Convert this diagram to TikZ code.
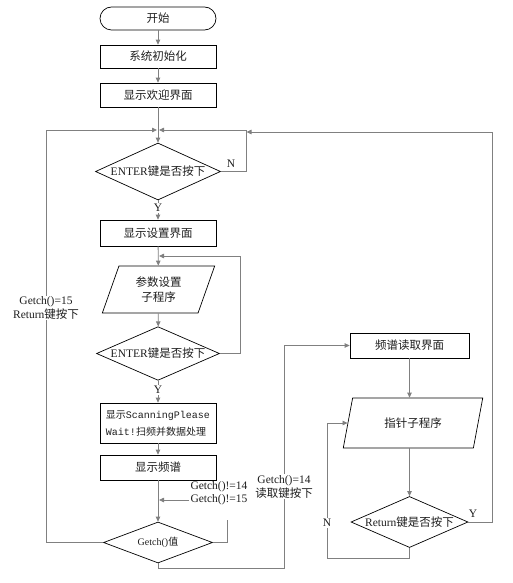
\documentclass[tikz,border=0pt]{standalone}
\usepackage{fontspec}
\setmainfont{Liberation Serif}
\newfontfamily\cjk{Noto Sans CJK SC}
\newfontfamily\monofnt{Liberation Mono}
\newcommand\zh[1]{{\cjk #1}}
\newcommand\fsz{\fontsize{11.5}{14}\selectfont}
\newcommand\fszs{\fontsize{10}{17}\selectfont}
\usetikzlibrary{shapes.geometric,arrows.meta}
\definecolor{lc}{HTML}{808080}
\definecolor{tc}{HTML}{1E1E1E}
\begin{document}
\begin{tikzpicture}[x=1pt,y=-1pt,
  box/.style={draw=black, line width=0.7pt, minimum width=116pt, minimum height=24pt, inner sep=1pt, font=\fsz, text=tc},
  term/.style={box, rounded corners=11.5pt},
  dia/.style={diamond, draw=black, line width=0.7pt, inner sep=0pt, aspect=2.2, font=\fsz, text=tc},
  io/.style={trapezium, trapezium left angle=70, trapezium right angle=110, trapezium stretches=true, draw=black, line width=0.7pt, inner sep=1pt, font=\fsz, text=tc},
  ln/.style={draw=lc, line width=0.8pt},
  arr/.style={ln, -{Triangle[length=5pt,width=4.5pt]}},
  lab/.style={font=\fsz, text=tc, inner sep=1pt, fill=white}]
\useasboundingbox (0,0) rectangle (512,583);

% main column
\node[term, minimum height=23pt] (start) at (158,18.5) {\zh{开始}};
\node[box, minimum height=23pt] (init) at (158,56.5) {\zh{系统初始化}};
\node[box] (welcome) at (158,95) {\zh{显示欢迎界面}};
\node[dia, minimum width=125pt, minimum height=57pt] (enter1) at (158,171.5) {ENTER\zh{键是否按下}};
\node[box, minimum height=26pt] (setting) at (158,233) {\zh{显示设置界面}};
\node[io, minimum width=113pt, minimum height=47pt, align=center, font=\fontsize{11.5}{15}\selectfont] (param) at (158.5,289.5) {\zh{参数设置}\\\zh{子程序}};
\node[dia, minimum width=123pt, minimum height=49pt] (enter2) at (158,353.5) {ENTER\zh{键是否按下}};
\node[box, minimum height=40pt, align=left, font=\fszs] (scan) at (158,423) {\zh{显示}{\monofnt ScanningPlease}\\{\monofnt Wait!}\zh{扫频并数据处理}};
\node[box, minimum height=25pt] (spectrum) at (158,467.5) {\zh{显示频谱}};
\node[dia, minimum width=109pt, minimum height=41pt, font=\fontsize{10}{12}\selectfont] (getch) at (158,542.5) {Getch()\zh{值}};

% right column
\node[box, minimum width=119pt, minimum height=25pt] (readui) at (409.5,345.5) {\zh{频谱读取界面}};
\node[io, minimum width=140pt, minimum height=50pt] (ptr) at (413,423) {\zh{指针子程序}};
\node[dia, minimum width=117pt, minimum height=50pt] (ret) at (409.5,522) {Return\zh{键是否按下}};

% helper coordinates
\coordinate (j1) at (158,130);
\coordinate (lx) at (46,130);
\coordinate (nx) at (246,130);
\coordinate (j2) at (246.5,132);
\coordinate (rx) at (492,132);
\coordinate (j3) at (158,256);
\coordinate (e2x) at (240,256);
\coordinate (gx) at (227,520);
\coordinate (bx) at (284,568);
\coordinate (nb) at (327,558);

% connectors
\draw[arr] (start) -- (init);
\draw[arr] (init) -- (welcome);
\draw[arr] (welcome) -- (enter1);
\draw[arr] (getch.west) -| (lx) -- ([xshift=-1pt]j1);
\draw[arr] (enter1.east) -| (nx) -- ([xshift=1pt]j1);
\draw[arr] (ret.east) -| (rx) -- (j2);
\draw[arr] (enter1) -- (setting);
\draw[arr] (setting) -- (param);
\draw[arr] (param) -- (enter2);
\draw[arr] (enter2.east) -| (e2x) -- ([xshift=1pt]j3);
\draw[arr] (enter2) -- (scan);
\draw[arr] (scan) -- (spectrum);
\draw[arr] (spectrum) -- (getch);
\draw[ln] (getch.east) -| (gx);
\node[lab] (l14) at (219,487) {Getch()!=14};
\node[lab] (l15) at (219,500) {Getch()!=15};
\draw[arr] (l15.west) -- ([xshift=1pt]l15.west -| spectrum.south);
\draw[arr] (getch.south) |- (bx) |- (readui.west);
\draw[arr] (readui.south) -- (readui.south |- ptr.north);
\draw[arr] (ret.north |- ptr.south) -- (ret.north);
\draw[arr] (ret.south) |- (nb) |- (ptr.west);

% labels
\node[lab] (y1) at (158,208) {Y};
\node[lab] (y2) at (158,390) {Y};
\node[lab] (n1) at (231,164) {N};
\node[lab] (n2) at (327,523) {N};
\node[lab] (y3) at (473,514) {Y};
\node[lab, align=center] (g14) at (284,486.5) {Getch()=14\\\zh{读取键按下}};
\node[lab, align=center] (g15) at (46,308) {Getch()=15\\Return\zh{键按下}};
\end{tikzpicture}
\end{document}
